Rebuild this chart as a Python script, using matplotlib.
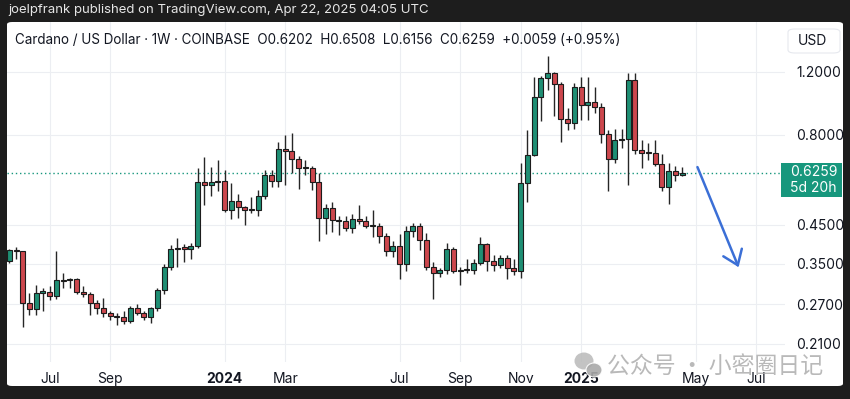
import matplotlib
matplotlib.use("Agg")
import matplotlib.pyplot as plt
import numpy as np
import pandas as pd
from matplotlib.patches import FancyBboxPatch, Rectangle, Ellipse
from matplotlib.lines import Line2D
from matplotlib.ticker import NullLocator

# ---------------- data ----------------
week_start = "2023-05-22"
opens = [0.357, 0.383, 0.380, 0.272, 0.262, 0.291, 0.292, 0.284, 0.316, 0.316,
         0.317, 0.292, 0.289, 0.272, 0.263, 0.255, 0.250, 0.249, 0.242, 0.264,
         0.256, 0.249, 0.263, 0.296, 0.344, 0.385, 0.388, 0.386, 0.392, 0.592,
         0.580, 0.592, 0.594, 0.495, 0.525, 0.503, 0.494, 0.495, 0.541, 0.619,
         0.594, 0.730, 0.720, 0.685, 0.647, 0.648, 0.593, 0.469, 0.500, 0.463,
         0.460, 0.440, 0.467, 0.462, 0.446, 0.447, 0.418, 0.379, 0.392, 0.349,
         0.433, 0.445, 0.407, 0.344, 0.330, 0.336, 0.384, 0.334, 0.337, 0.336,
         0.351, 0.397, 0.356, 0.348, 0.364, 0.341, 0.334, 0.589, 0.703, 1.022,
         1.150, 1.192, 1.107, 0.884, 0.862, 1.090, 0.969, 0.985, 0.955, 0.805,
         0.686, 0.775, 0.777, 1.138, 0.726, 0.712, 0.711, 0.664, 0.573, 0.636,
         0.6202]
highs = [0.386, 0.389, 0.381, 0.290, 0.306, 0.299, 0.303, 0.380, 0.330, 0.319,
         0.319, 0.303, 0.293, 0.278, 0.281, 0.259, 0.255, 0.258, 0.267, 0.270,
         0.259, 0.266, 0.299, 0.350, 0.395, 0.412, 0.398, 0.400, 0.646, 0.696,
         0.650, 0.680, 0.639, 0.587, 0.548, 0.507, 0.536, 0.563, 0.639, 0.639,
         0.766, 0.800, 0.812, 0.699, 0.680, 0.654, 0.625, 0.514, 0.520, 0.475,
         0.476, 0.483, 0.510, 0.477, 0.493, 0.455, 0.426, 0.405, 0.424, 0.447,
         0.455, 0.455, 0.428, 0.355, 0.340, 0.399, 0.389, 0.344, 0.360, 0.360,
         0.416, 0.401, 0.370, 0.371, 0.370, 0.360, 0.670, 0.826, 1.162, 1.165,
         1.327, 1.200, 1.120, 0.949, 1.117, 1.157, 1.160, 1.085, 0.980, 0.826,
         0.830, 0.830, 1.192, 1.190, 0.776, 0.760, 0.776, 0.709, 0.667, 0.657,
         0.6508]
lows = [0.353, 0.362, 0.233, 0.252, 0.252, 0.259, 0.278, 0.280, 0.300, 0.300,
        0.288, 0.283, 0.252, 0.254, 0.249, 0.244, 0.237, 0.238, 0.239, 0.252,
        0.244, 0.240, 0.258, 0.288, 0.337, 0.344, 0.355, 0.360, 0.388, 0.511,
        0.540, 0.560, 0.488, 0.466, 0.469, 0.450, 0.485, 0.475, 0.530, 0.572,
        0.574, 0.580, 0.625, 0.567, 0.618, 0.563, 0.406, 0.425, 0.430, 0.420,
        0.433, 0.428, 0.451, 0.440, 0.417, 0.400, 0.367, 0.365, 0.317, 0.334,
        0.415, 0.383, 0.337, 0.279, 0.322, 0.329, 0.331, 0.305, 0.330, 0.329,
        0.348, 0.334, 0.334, 0.340, 0.317, 0.325, 0.319, 0.522, 0.700, 0.876,
        1.067, 0.903, 0.766, 0.826, 0.832, 0.880, 0.880, 0.921, 0.760, 0.560,
        0.670, 0.737, 0.580, 0.709, 0.648, 0.680, 0.655, 0.560, 0.514, 0.597,
        0.6156]
closes = [0.383, 0.380, 0.272, 0.262, 0.291, 0.292, 0.284, 0.316, 0.314, 0.317,
          0.292, 0.289, 0.272, 0.263, 0.255, 0.250, 0.249, 0.242, 0.264, 0.256,
          0.249, 0.263, 0.296, 0.344, 0.385, 0.388, 0.386, 0.392, 0.592, 0.580,
          0.592, 0.594, 0.495, 0.525, 0.503, 0.494, 0.495, 0.541, 0.619, 0.594,
          0.730, 0.720, 0.685, 0.647, 0.648, 0.593, 0.469, 0.500, 0.463, 0.460,
          0.440, 0.467, 0.462, 0.446, 0.447, 0.418, 0.379, 0.392, 0.349, 0.433,
          0.445, 0.407, 0.344, 0.330, 0.336, 0.384, 0.334, 0.337, 0.336, 0.351,
          0.397, 0.356, 0.348, 0.364, 0.341, 0.334, 0.589, 0.703, 1.022, 1.150,
          1.192, 1.107, 0.884, 0.862, 1.090, 0.969, 0.985, 0.955, 0.805, 0.686,
          0.775, 0.777, 1.138, 0.726, 0.712, 0.711, 0.664, 0.573, 0.636, 0.620,
          0.6259]

tick_dates = ["2023-07-03", "2023-09-04", "2024-01-01", "2024-03-04", "2024-07-01",
              "2024-09-02", "2024-11-04", "2025-01-06", "2025-05-05", "2025-07-07"]
tick_labels = ["Jul", "Sep", "2024", "Mar", "Jul", "Sep", "Nov", "2025", "May", "Jul"]
bold_labels = ["2024", "2025"]
price_ticks = [1.2, 0.8, 0.45, 0.35, 0.27, 0.21]
last_price = 0.6259
countdown = "5d 20h"
header = "joelpfrank published on TradingView.com, Apr 22, 2025 04:05 UTC"
title = ("Cardano / US Dollar \u00b7 1W \u00b7 COINBASE  O0.6202  H0.6508  "
         "L0.6156  C0.6259  +0.0059 (+0.95%)")
watermark = "公众号 · 小密圈日记"
# forecast arrow (date, price) start -> tip
arrow_start = ("2025-05-07", 0.651)
arrow_tip = ("2025-06-18", 0.347)

# ---------------- style ----------------
W, H = 850, 399
GREEN = "#1f8f74"
RED = "#cc474d"
TEAL = "#17977d"
EDGE = "#1c1c1c"
TXT = "#131722"
BLUE = "#3b6fd6"
plt.rcParams['font.family'] = ['Inter', 'DejaVu Sans']

def fx(x):
    return x / W

def fy(y):
    return 1 - y / H

fig = plt.figure(figsize=(W / 100, H / 100), dpi=100)
fig.patch.set_facecolor("#1d1d1d")

panel = FancyBboxPatch((fx(7), fy(386)), fx(836), 364 / H,
                       boxstyle="round,pad=0,rounding_size=0.006",
                       transform=fig.transFigure, facecolor="white",
                       edgecolor="none", zorder=-10)
fig.patches.append(panel)

ax = fig.add_axes([fx(7), fy(362), fx(785) - fx(7), fy(22) - fy(362)])
ax.set_zorder(1)
ax.set_facecolor("none")
for s in ax.spines.values():
    s.set_visible(False)

dates = pd.date_range(week_start, periods=len(opens), freq="7D")
t0 = dates[0]
xs = np.array([(d - t0).days / 7 for d in dates])
o = np.array(opens); h = np.array(highs); l = np.array(lows); c = np.array(closes)

ax.set_yscale("log")
ax.set_ylim(0.1866, 1.650)
ax.set_xlim(-0.342, 115.3)

up = c >= o
cols = np.where(up, GREEN, RED)
ax.vlines(xs, l, h, color="#262626", lw=1.0, zorder=3)
bot = np.minimum(o, c)
top = np.maximum(np.maximum(o, c), bot * 1.008)
ax.bar(xs, top - bot, bottom=bot, width=0.74, color=cols, edgecolor=EDGE,
       linewidth=0.8, zorder=4)

ax.axhline(last_price, color=TEAL, ls=(0, (1, 2)), lw=1.0, zorder=2)

# axes ticks
ax.yaxis.tick_right()
ax.set_yticks(price_ticks)
ax.set_yticklabels([f"{p:.4f}" for p in price_ticks])
ax.yaxis.set_minor_locator(NullLocator())
tx = [(pd.Timestamp(d) - t0).days / 7 for d in tick_dates]
ax.set_xticks(tx)
ax.set_xticklabels(tick_labels)
for lab in ax.get_xticklabels():
    if lab.get_text() in bold_labels:
        lab.set_fontweight("bold")
ax.tick_params(axis="y", length=0, pad=8, labelsize=10, labelcolor=TXT)
ax.tick_params(axis="x", length=0, pad=7, labelsize=10, labelcolor=TXT)
ax.grid(True, color="#eceef2", lw=0.8, zorder=0)
ax.set_axisbelow(True)

# arrow
sx = (pd.Timestamp(arrow_start[0]) - t0).days / 7
ex = (pd.Timestamp(arrow_tip[0]) - t0).days / 7
ax.plot([sx, ex], [arrow_start[1], arrow_tip[1]], color=BLUE, lw=1.8,
        solid_capstyle="round", zorder=5, clip_on=False)
fig.canvas.draw()
p0 = ax.transData.transform((sx, arrow_start[1]))
p1 = ax.transData.transform((ex, arrow_tip[1]))
d = (p1 - p0) / np.linalg.norm(p1 - p0)
for ang in (np.deg2rad(36), -np.deg2rad(36)):
    rot = np.array([[np.cos(ang), -np.sin(ang)], [np.sin(ang), np.cos(ang)]])
    pe = p1 + rot @ (-d) * 17
    fig.add_artist(Line2D([p1[0] / W, pe[0] / W], [p1[1] / H, pe[1] / H],
                          transform=fig.transFigure, color=BLUE, lw=1.8,
                          solid_capstyle="round", zorder=6))

# header & title
fig.text(fx(8), fy(10.5), header, color="#e6e6e6", fontsize=9.5, va="center", ha="left")
fig.text(fx(15), fy(40.5), title, color=TXT, fontsize=9.7, va="center", ha="left", zorder=6)

# USD box
usd = FancyBboxPatch((fx(788), fy(53)), 52 / W, 24 / H,
                     boxstyle="round,pad=0,rounding_size=0.008",
                     transform=fig.transFigure, facecolor="white",
                     edgecolor="#e6e8ee", lw=0.8, zorder=5)
fig.patches.append(usd)
fig.text(fx(812), fy(41), "USD", color=TXT, fontsize=10, ha="center", va="center", zorder=6)

# last price tag
py = H - ax.transData.transform((0, last_price))[1]
fig.patches.append(Rectangle((fx(781), fy(py + 24)), 61 / W, 34 / H,
                             transform=fig.transFigure, facecolor=TEAL,
                             edgecolor="none", zorder=5))
fig.text(fx(790), fy(py - 1.5), f"{last_price:.4f}", color="white", fontsize=10,
         ha="left", va="center", zorder=6)
fig.text(fx(790), fy(py + 14.5), countdown, color="white", fontsize=10,
         ha="left", va="center", zorder=6)

# watermark (semi-transparent, drawn over the time axis as in the screenshot)
fig.add_artist(Ellipse((fx(584), fy(361)), 19 / W, 17 / H, transform=fig.transFigure,
                       facecolor="#b9b9b9", edgecolor="none", alpha=0.85, zorder=7))
fig.add_artist(Ellipse((fx(594), fy(370)), 16 / W, 14 / H, transform=fig.transFigure,
                       facecolor="#a9a9a9", edgecolor="white", lw=0.8, alpha=0.9, zorder=7))
fig.text(fx(607), fy(366), watermark, color="#a8a8a8", alpha=0.8, fontsize=16.5,
         family=["Noto Sans CJK SC", "DejaVu Sans"], ha="left", va="center", zorder=7)

fig.savefig("out.png", dpi=100, facecolor=fig.get_facecolor())
